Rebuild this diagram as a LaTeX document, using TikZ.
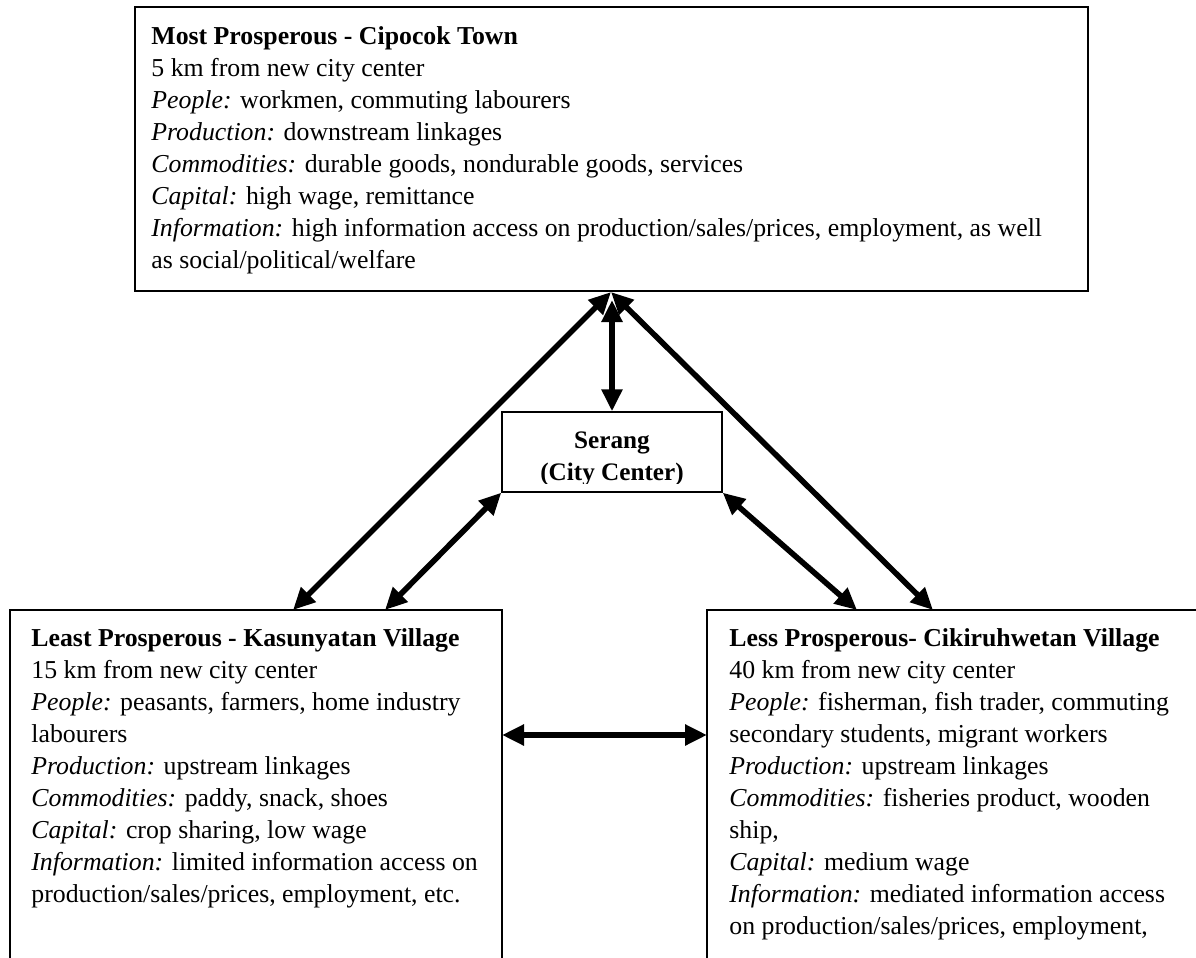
\documentclass[tikz,border=0pt]{standalone}
\usepackage{fontspec}
\setmainfont{Liberation Serif}
\usetikzlibrary{arrows.meta}

\begin{document}
\begin{tikzpicture}[
                x=0.5pt, y=-0.5pt,
                box/.style={draw, line width=0.7pt, inner sep=0pt},
                txt/.style={align=left, inner sep=0pt, anchor=north west, font=\fontsize{12.9}{16}\selectfont},
                link/.style={line width=2.8pt, {Triangle[length=11pt,width=10pt]}-{Triangle[length=11pt,width=10pt]}}]

\useasboundingbox (0,0) rectangle (1196,958);

% most prosperous
\node[box, minimum width=476.5pt, minimum height=142pt] (TOWN) at (611.5,149) {};
\node[txt] (TOWNTXT) at (151,26) {\textbf{Most Prosperous - Cipocok Town}\\
  5 km from new city center\\
  \textit{People:} workmen, commuting labourers\\
  \textit{Production:} downstream linkages\\
  \textit{Commodities:} durable goods, nondurable goods, services\\
  \textit{Capital:} high wage, remittance\\
  \textit{Information:} high information access on production/sales/prices, employment, as well\\
  as social/political/welfare};

% city center
\node[box, minimum width=110pt, minimum height=40pt] (CITY) at (612,452) {};
\begin{scope}
  \clip (502,412) rectangle (722,483);
  \node[align=center, inner sep=0pt, anchor=north, font=\fontsize{12.6}{16}\selectfont\bfseries] (CITYTXT) at (612,431) {Serang\\(City Center)};
\end{scope}

% least prosperous
\node[box, minimum width=246pt, minimum height=200pt] (LEAST) at (256,810) {};
\node[txt] (LEASTTXT) at (31,628) {\textbf{Least Prosperous - Kasunyatan Village}\\
  15 km from new city center\\
  \textit{People:} peasants, farmers, home industry\\
  labourers\\
  \textit{Production:} upstream linkages\\
  \textit{Commodities:} paddy, snack, shoes\\
  \textit{Capital:} crop sharing, low wage\\
  \textit{Information:} limited information access on\\
  production/sales/prices, employment, etc.};

% less prosperous
\node[box, minimum width=251.5pt, minimum height=200pt] (LESS) at (958.5,810) {};
\node[txt] (LESSTXT) at (729,628) {\textbf{Less Prosperous- Cikiruhwetan Village}\\
  40 km from new city center\\
  \textit{People:} fisherman, fish trader, commuting\\
  secondary students, migrant workers\\
  \textit{Production:} upstream linkages\\
  \textit{Commodities:} fisheries product, wooden\\
  ship,\\
  \textit{Capital:} medium wage\\
  \textit{Information:} mediated information access\\
  on production/sales/prices, employment,};

% arrow ends
\coordinate (APEX) at (611,292);
\coordinate (APEXV) at (612,300);
\coordinate (LA) at (293,610);
\coordinate (LB) at (385,610);
\coordinate (RB) at (857,610);
\coordinate (RA) at (933,610);
\coordinate (LH) at (502,735);
\coordinate (RH) at (707,735);

\path [link] (APEXV) edge (CITY.north);
\path [link] (APEX) edge (LA);
\path [link] (APEX) edge (RA);
\path [link] (CITY.south west) edge (LB);
\path [link] (CITY.south east) edge (RB);
\path [link] (LH) edge (RH);

\end{tikzpicture}
\end{document}
